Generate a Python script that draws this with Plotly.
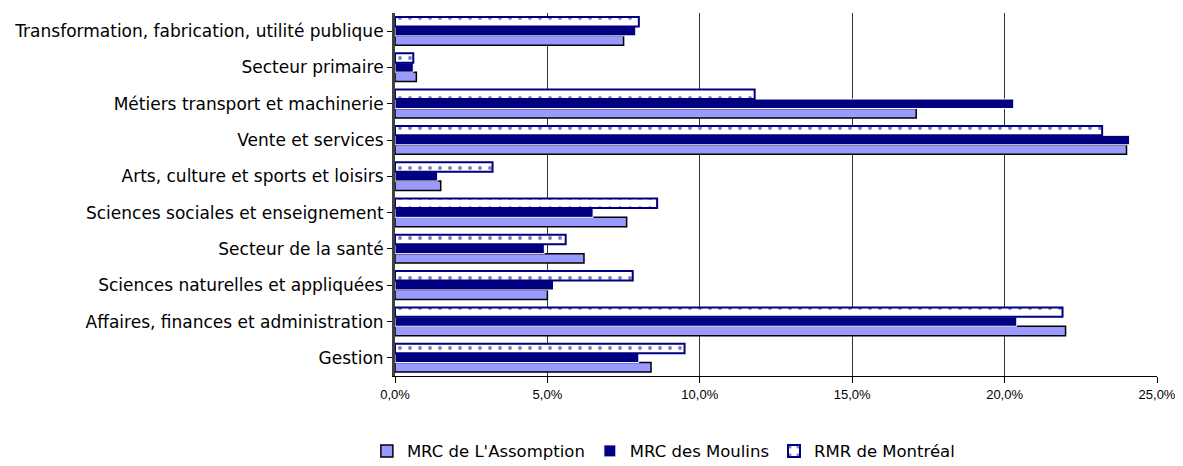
import plotly.graph_objects as go

categories = [
    "Gestion",
    "Affaires, finances et administration",
    "Sciences naturelles et appliquées",
    "Secteur de la santé",
    "Sciences sociales et enseignement",
    "Arts, culture et sports et loisirs",
    "Vente et services",
    "Métiers transport et machinerie",
    "Secteur primaire",
    "Transformation, fabrication, utilité publique",
]
assomption = [8.4, 22.0, 5.0, 6.2, 7.6, 1.5, 24.0, 17.1, 0.7, 7.5]
moulins = [8.0, 20.4, 5.2, 4.9, 6.5, 1.4, 24.1, 20.3, 0.6, 7.9]
rmr = [9.5, 21.9, 7.8, 5.6, 8.6, 3.2, 23.2, 11.8, 0.6, 8.0]
series_names = ["MRC de L'Assomption", "MRC des Moulins", "RMR de Montréal"]
tick_vals = [0, 5, 10, 15, 20, 25]
tick_text = ["0,0%", "5,0%", "10,0%", "15,0%", "20,0%", "25,0%"]

fig = go.Figure()
fig.add_trace(go.Bar(
    y=categories, x=assomption, orientation="h", name=series_names[0],
    marker=dict(color="#9999FF", line=dict(color="#000000", width=1.5)),
))
fig.add_trace(go.Bar(
    y=categories, x=moulins, orientation="h", name=series_names[1],
    marker=dict(color="#000080", line=dict(color="#FFFFFF", width=1)),
))
fig.add_trace(go.Bar(
    y=categories, x=rmr, orientation="h", name=series_names[2],
    marker=dict(color="#FFFFFF", line=dict(color="#000080", width=2),
                pattern=dict(shape=".", fgcolor="#000080", bgcolor="#FFFFFF",
                             size=10, solidity=0.12)),
))

font = "DejaVu Sans, Verdana, sans-serif"
tickfont = "Liberation Sans, Arial, sans-serif"
fig.update_layout(
    width=1183, height=466,
    paper_bgcolor="white", plot_bgcolor="white",
    barmode="group", bargap=0.22, bargroupgap=0.0,
    margin=dict(l=387, r=34, t=5, b=98),
    font=dict(family=font, color="#000000"),
    showlegend=True,
    legend=dict(orientation="h", x=0.554, xanchor="center", xref="container",
                y=0.049, yanchor="middle", yref="container",
                font=dict(size=16.5, family=font), itemwidth=30,
                traceorder="normal", tracegroupgap=0),
    xaxis=dict(range=[0, 25], tickvals=tick_vals, ticktext=tick_text,
               showgrid=True, gridcolor="#333333", gridwidth=1,
               zeroline=False, showline=True, linecolor="#000000",
               ticks="outside", ticklen=6, tickcolor="#000000",
               tickfont=dict(size=13, family=tickfont), automargin=False),
    yaxis=dict(showgrid=False, showline=True, linecolor="#404040", linewidth=3,
               ticks="outside", ticklen=5, tickcolor="#000000",
               tickfont=dict(size=17, family=font),
               automargin=False),
)

fig.write_html("out.html")
